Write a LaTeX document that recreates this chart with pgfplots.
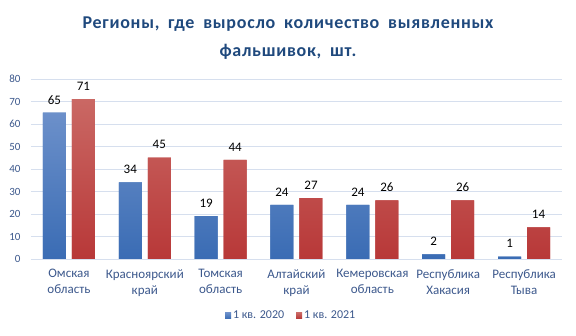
\documentclass[border=0pt]{standalone}
\usepackage{pgfplots}
\pgfplotsset{compat=1.18}
\usepackage{fontspec}
\setmainfont{Carlito}
\newfontfamily\titlefont[LetterSpace=4]{Carlito}
\definecolor{titleblue}{RGB}{31,73,125}
\definecolor{axtext}{RGB}{60,88,140}
\definecolor{gridc}{RGB}{214,223,238}
\definecolor{btop}{RGB}{108,144,202}
\definecolor{bbot}{RGB}{58,108,180}
\definecolor{rtop}{RGB}{202,104,100}
\definecolor{rbot}{RGB}{184,56,56}
\begin{document}
\begin{tikzpicture}
\useasboundingbox (0,0) rectangle (576pt,336pt);
\node[font=\titlefont\fontsize{18}{20}\selectfont\bfseries, text=titleblue, anchor=base, inner sep=0pt] at (288pt,307.7pt) {Регионы,\hspace{4pt} где\hspace{4pt} выросло\hspace{4pt} количество\hspace{4pt} выявленных};
\node[font=\titlefont\fontsize{18}{20}\selectfont\bfseries, text=titleblue, anchor=base, inner sep=0pt] at (288pt,279.5pt) {фальшивок,\hspace{4pt} шт.};
\begin{axis}[
  at={(31pt,77pt)}, anchor=south west,
  scale only axis, width=531pt, height=180pt,
  xmin=-0.5, xmax=6.5, ymin=0, ymax=80,
  ytick={0,10,...,80},
  xtick={0,...,6},
  xticklabels={{Омская\\область},{Красноярский\\край},{Томская\\область},{Алтайский\\край},{Кемеровская\\область},{Республика\\Хакасия},{Республика\\Тыва}},
  xticklabel style={align=center, font=\fontsize{13}{15.7}\selectfont, text=axtext, yshift=-7pt},
  yticklabel style={font=\fontsize{11}{13}\selectfont, text=axtext, xshift=-7pt},
  /pgf/number format/assume math mode=true,
  major tick length=0pt,
  axis line style={draw=none},
  ymajorgrids, grid style={gridc, line width=0.8pt},
  ybar, bar width=23pt,
  nodes near coords,
  every node near coord/.append style={font=\fontsize{13}{15}\selectfont, text=black, anchor=center, yshift=13pt},
  legend style={at={(0.49,-0.315)}, anchor=center, draw=none, legend columns=2,
    font=\fontsize{12}{14}\selectfont, text=axtext,
    /tikz/every even column/.append style={column sep=10pt}},
  legend image code/.code={\fill[#1] (-6pt,-3pt) rectangle (0pt,3pt);},
]
\addplot[draw=none, bar shift=-14.5pt, top color=btop, bottom color=bbot, fill=bbot] coordinates {(0,65) (1,34) (2,19) (3,24) (4,24) (5,2) (6,1)};
\addplot[draw=none, bar shift=14.5pt, top color=rtop, bottom color=rbot, fill=rbot] coordinates {(0,71) (1,45) (2,44) (3,27) (4,26) (5,26) (6,14)};
\legend{1 кв. 2020, 1 кв. 2021}
\end{axis}
\end{tikzpicture}
\end{document}
